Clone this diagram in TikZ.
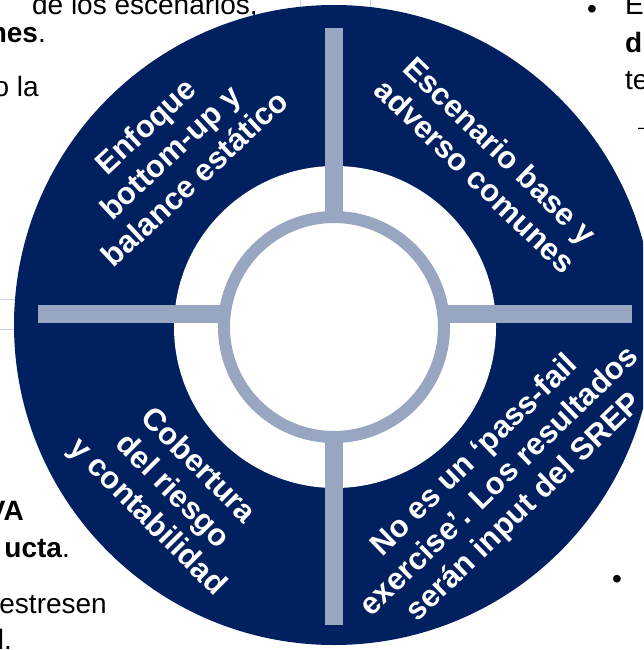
\documentclass[tikz,border=0pt]{standalone}
\usepackage{fontspec}
\setmainfont{Liberation Sans}
\definecolor{navy}{RGB}{0,32,96}
\definecolor{barc}{RGB}{152,166,194}
\definecolor{rulec}{RGB}{200,208,222}
\begin{document}
\begin{tikzpicture}[x=1pt,y=-1pt,
  seg/.style={text=white, font=\bfseries\fontsize{31}{36}\selectfont, align=center, inner sep=0pt},
  bg/.style={text=black, font=\fontsize{28}{33}\selectfont, inner sep=0pt},
  rule/.style={rulec, line width=1pt}]
\useasboundingbox (0,0) rectangle (643,650);
\clip (0,0) rectangle (643,650);
% background slide fragments
\draw[rule] (300,0) -- (300,30);
\draw[rule] (370,0) -- (370,30);
\draw[rule] (0,299) -- (40,299);
\draw[rule] (0,329) -- (40,329);
\node[bg, anchor=base east] (t1) at (258,15) {de los escenarios,};
\node[bg, anchor=base east] (t2) at (46,43) {\textbf{nes}.};
\node[bg, anchor=base east] (t3) at (39,97) {o la};
\node[bg] (b1) at (592,12) {•};
\node[bg, anchor=base west] (t5) at (625,15) {E};
\node[bg, anchor=base west] (t6) at (625,53) {\textbf{d}};
\node[bg, anchor=base west] (t7) at (625,90) {te};
\node[bg, anchor=west, font=\fontsize{18}{20}\selectfont] (t8) at (638,131) {–};
\node[bg, anchor=base east] (t9) at (24,520) {\textbf{VA}};
\node[bg, anchor=base east] (t10) at (70,557) {\textbf{ucta}.};
\node[bg, anchor=base east] (t11) at (107,613) {estresen};
\node[bg, anchor=base east] (t12) at (12,649) {l.};
\node[bg] (b2) at (617,582) {•};
% disc
\fill[navy] (334,325) circle (320pt);
\fill[white] (335,327) circle (161pt);
\fill[barc] (325,28) rectangle (343,625);
\fill[barc] (38,305) rectangle (632,323);
\draw[barc, line width=12pt, fill=white] (334,327) circle (110pt);
% segment labels
\node[seg, rotate=43] (s1) at (170,152) {Enfoque\\bottom-up y\\balance estático};
\node[seg, rotate=-44] (s2) at (488,163) {Escenario base y\\adverso comunes};
\node[seg, rotate=-45] (s3) at (172,492) {Cobertura\\del riesgo\\y contabilidad};
\node[seg, rotate=44] (s4) at (500,482) {No es un ‘pass-fail\\exercise’. Los resultados\\serán input del SREP};
\end{tikzpicture}
\end{document}
